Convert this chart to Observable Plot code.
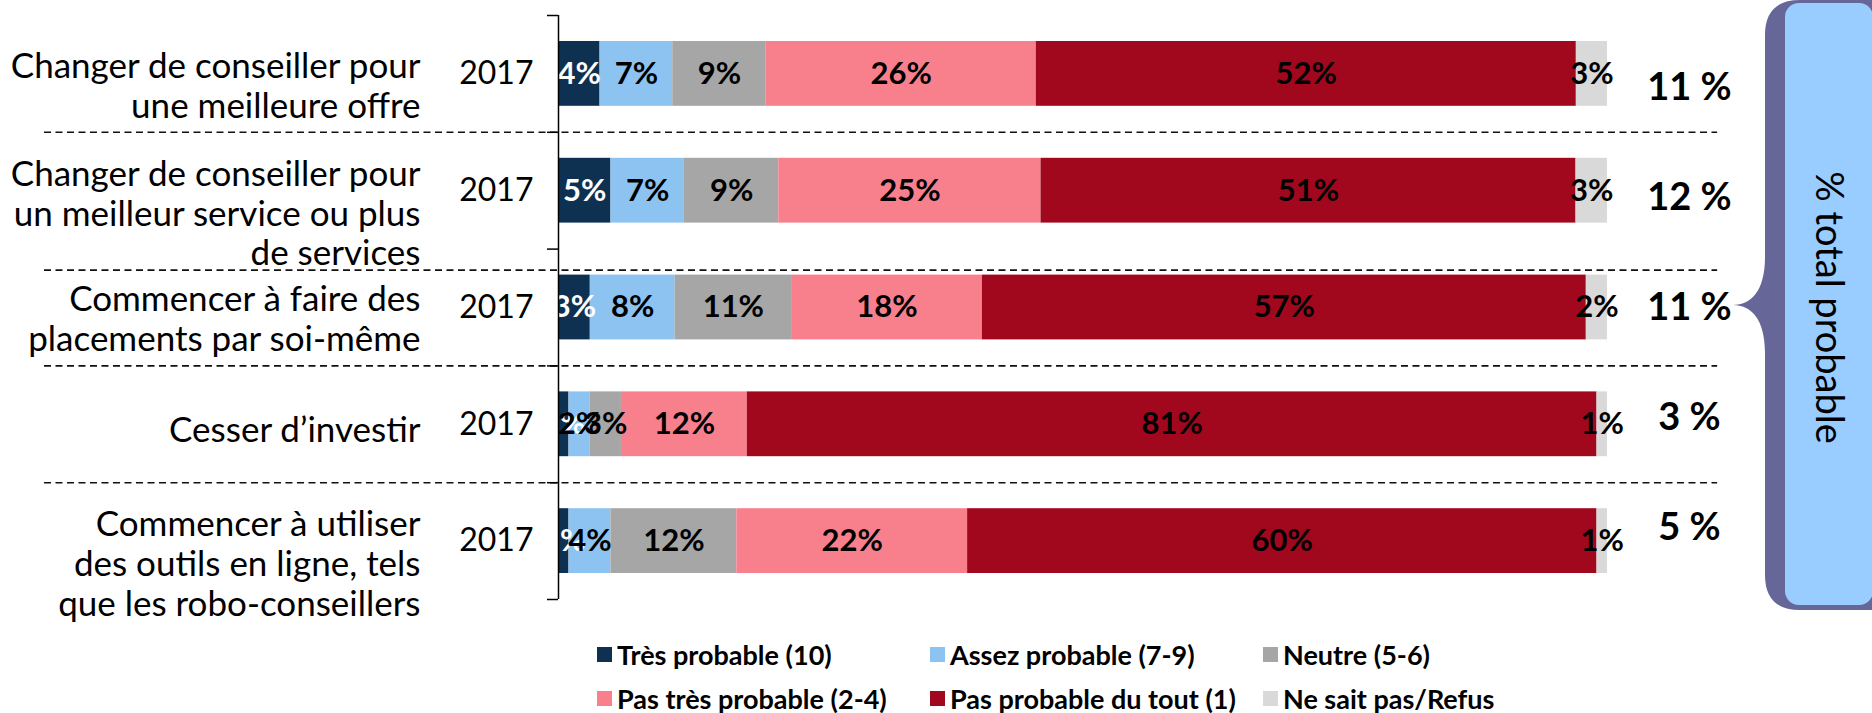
<!DOCTYPE html>
<html><head><meta charset="utf-8">
<script src="https://cdn.jsdelivr.net/npm/d3@7"></script>
<script src="https://cdn.jsdelivr.net/npm/@observablehq/plot@0.6"></script>
<style>
body{margin:0;background:#fff;font-family:Lato,sans-serif;}
#legend{display:grid;grid-template-columns:repeat(3,333px);grid-auto-rows:44px;margin:7px 0 0 597px;}
.item{display:flex;align-items:center;font-weight:700;font-size:27px;color:#000;white-space:nowrap;}
.sw{width:15px;height:15px;margin-right:5px;flex:none;}
</style></head><body><div id="chart"></div><div id="legend"></div>
<script>
const categories = [
  "Changer de conseiller pour\nune meilleure offre",
  "Changer de conseiller pour\nun meilleur service ou plus\nde services",
  "Commencer à faire des\nplacements par soi-même",
  "Cesser d’investir",
  "Commencer à utiliser\ndes outils en ligne, tels\nque les robo-conseillers"
];
const years = ["2017", "2017", "2017", "2017", "2017"];
const series = ["Très probable (10)", "Assez probable (7-9)", "Neutre (5-6)",
                "Pas très probable (2-4)", "Pas probable du tout (1)", "Ne sait pas/Refus"];
const colors = ["#0E3152", "#8DC3F1", "#A6A6A6", "#F8808D", "#A2081D", "#D9D9D9"];
const valuesRow1 = [4, 7, 9, 26, 52, 3];
const valuesRow2 = [5, 7, 9, 25, 51, 3];
const valuesRow3 = [3, 8, 11, 18, 57, 2];
const valuesRow4 = [1, 2, 3, 12, 81, 1];
const valuesRow5 = [1, 4, 12, 22, 60, 1];
const totals = [11, 12, 11, 3, 5];
const boxLabel = "% total probable";

const rows = [valuesRow1, valuesRow2, valuesRow3, valuesRow4, valuesRow5];
const data = rows.flatMap((row, i) => row.map((v, j) => ({row: i, cat: series[j], color: colors[j], value: v})));
const nLines = s => s.split("\n").length;
const seps = d3.range(1, categories.length);

const brace = (index, scales, values, dims) => {
  const W = dims.width;
  const right = dims.width - dims.marginRight;
  const L = right + 158, tip = right + 126, inner = right + 178;
  const top = 0, bottom = dims.height - dims.marginBottom + 11;
  const mid = (dims.marginTop + dims.height - dims.marginBottom) / 2 - 2;
  const r = 35;
  const g = d3.create("svg:g");
  g.append("path")
    .attr("fill", "#666699")
    .attr("d", `M${W + 10},${top} L${L + r},${top} Q${L},${top} ${L},${top + r} L${L},${mid - 48}
      C${L},${mid - 14} ${L - 14},${mid} ${tip},${mid} C${L - 14},${mid} ${L},${mid + 14} ${L},${mid + 48}
      L${L},${bottom - r} Q${L},${bottom} ${L + r},${bottom} L${W + 10},${bottom} Z`);
  g.append("rect")
    .attr("x", inner).attr("y", top + 3)
    .attr("width", W - inner + 1).attr("height", bottom - top - 8)
    .attr("rx", 14).attr("fill", "#99CCFF");
  return g.node();
};

// separators extend from the label column to the totals column (in x-scale units)
const sepStyle = {x1: -0.49, x2: 1.105, stroke: "#111", strokeWidth: 1.6, strokeDasharray: "7,4.5"};
const catDy = {1: 5, 2: 11, 3: 22};
const catLabel = n => Plot.text(categories, {
  filter: d => nLines(d) === n,
  y: (d, i) => i + 0.5, frameAnchor: "left", dx: -138, dy: catDy[n],
  textAnchor: "end", fontSize: 35, lineHeight: 40 / 35, fill: "#000"
});

const chart = Plot.plot({
  width: 1872,
  height: 625,
  marginLeft: 558,
  marginRight: 265,
  marginTop: 15,
  marginBottom: 26,
  style: {fontFamily: "Lato, sans-serif", background: "white", overflow: "visible"},
  x: {domain: [0, 1], axis: null},
  y: {domain: [0, categories.length], reverse: true, axis: null},
  color: {type: "identity"},
  marks: [
    // separators
    Plot.ruleY(seps.filter(b => nLines(categories[b - 1]) < 3), {...sepStyle, dy: 0}),
    Plot.ruleY(seps.filter(b => nLines(categories[b - 1]) >= 3), {...sepStyle, dy: 21}),
    // bars
    Plot.rectX(data, Plot.stackX({
      y: "row", x: "value", z: "cat", interval: 1, fill: "color",
      offset: "normalize", insetTop: 26, insetBottom: 26
    })),
    // bar labels
    Plot.text(data, Plot.stackX({
      y: d => d.row + 0.5, x: "value", z: "cat", offset: "normalize",
      text: d => d.value + "%",
      fill: d => d.cat === series[0] ? "white" : "black",
      fontSize: 31, fontWeight: 700
    })),
    // y axis line and ticks
    Plot.axisY({ticks: d3.range(categories.length + 1), tickSize: 11, tickFormat: () => "", strokeWidth: 1.5, label: null}),
    Plot.ruleX([0], {y1: 0, y2: categories.length, stroke: "#000", strokeWidth: 1.5}),
    // category labels
    catLabel(1), catLabel(2), catLabel(3),
    Plot.text(years, {
      y: (d, i) => i + 0.5, frameAnchor: "left", dx: -25,
      textAnchor: "end", fontSize: 32, fill: "#000"
    }),
    // totals column
    Plot.text([totals.map(t => t + " %").join("\n")], {
      frameAnchor: "right", dx: 82, dy: -23, textAnchor: "middle",
      fontSize: 38, fontWeight: 700, lineHeight: 110 / 38, fill: "#000"
    }),
    brace,
    Plot.text([boxLabel], {
      frameAnchor: "right", dx: 221, rotate: 90, textAnchor: "middle",
      fontSize: 38, fill: "#000"
    })
  ]
});
document.getElementById("chart").appendChild(chart);

const legend = d3.select("#legend");
series.forEach((s, i) => {
  const it = legend.append("div").attr("class", "item");
  it.append("div").attr("class", "sw").style("background", colors[i]);
  it.append("span").text(s);
});
</script></body></html>
